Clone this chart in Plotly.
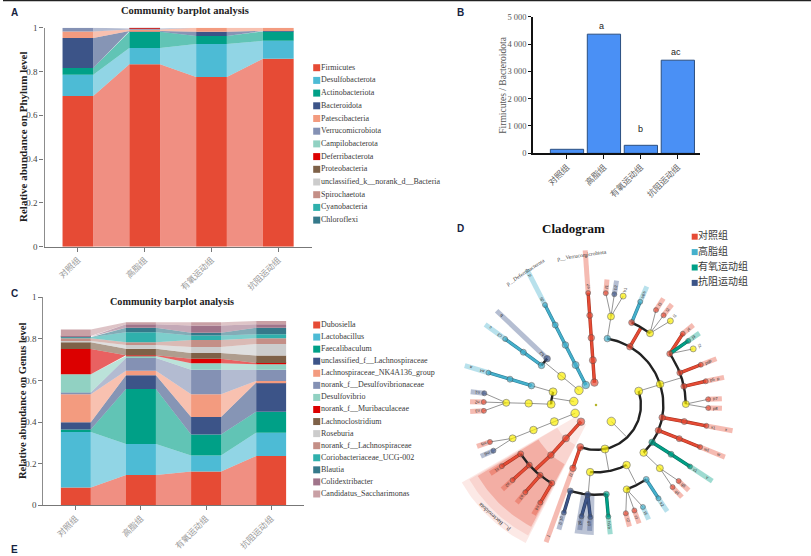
import numpy as np
import plotly.graph_objects as go

W, H = 811, 556

groups = ["对照组", "高脂组", "有氧运动组", "抗阻运动组"]

# ---------- Panel A: phylum relative abundance ----------
phylum_names = ["Firmicutes", "Desulfobacterota", "Actinobacteriota", "Bacteroidota",
                "Patescibacteria", "Verrucomicrobiota", "Campilobacterota", "Deferribacterota",
                "Proteobacteria", "unclassified_k__norank_d__Bacteria", "Spirochaetota",
                "Cyanobacteria", "Chloroflexi"]
firmicutes = [0.688, 0.833, 0.775, 0.858]
desulfobacterota = [0.097, 0.074, 0.150, 0.082]
actinobacteriota = [0.031, 0.075, 0.037, 0.043]
bacteroidota = [0.137, 0.003, 0.020, 0.002]
patescibacteria = [0.030, 0.007, 0.018, 0.015]
verrucomicrobiota = [0.017, 0.004, 0.0, 0.0]
campilobacterota = [0.0, 0.002, 0.0, 0.0]
phylum_rest = [0.0, 0.002, 0.0, 0.0]
phylum_series = [firmicutes, desulfobacterota, actinobacteriota, bacteroidota,
                 patescibacteria, verrucomicrobiota, campilobacterota, phylum_rest]

# ---------- Panel C: genus relative abundance ----------
genus_names = ["Dubosiella", "Lactobacillus", "Faecalibaculum", "unclassified_f__Lachnospiraceae",
               "Lachnospiraceae_NK4A136_group", "norank_f__Desulfovibrionaceae", "Desulfovibrio",
               "norank_f__Muribaculaceae", "Lachnoclostridium", "Roseburia",
               "norank_f__Lachnospiraceae", "Coriobacteriaceae_UCG-002", "Blautia",
               "Colidextribacter", "Candidatus_Saccharimonas"]
dubosiella = [0.085, 0.146, 0.162, 0.237]
lactobacillus = [0.268, 0.149, 0.077, 0.112]
faecalibaculum = [0.012, 0.264, 0.101, 0.101]
unclassified_lachno = [0.034, 0.066, 0.085, 0.140]
nk4a136 = [0.135, 0.022, 0.109, 0.008]
norank_desulfo = [0.008, 0.061, 0.118, 0.054]
desulfovibrio = [0.088, 0.010, 0.031, 0.026]
norank_murib = [0.122, 0.003, 0.021, 0.006]
lachnoclostridium = [0.032, 0.032, 0.028, 0.036]
roseburia = [0.006, 0.018, 0.029, 0.056]
norank_lachno = [0.013, 0.013, 0.034, 0.027]
coriobacteriaceae = [0.005, 0.048, 0.021, 0.019]
blautia = [0.003, 0.022, 0.014, 0.032]
colidextribacter = [0.003, 0.016, 0.034, 0.016]
saccharimonas = [0.031, 0.010, 0.016, 0.016]
genus_series = [dubosiella, lactobacillus, faecalibaculum, unclassified_lachno, nk4a136,
                norank_desulfo, desulfovibrio, norank_murib, lachnoclostridium, roseburia,
                norank_lachno, coriobacteriaceae, blautia, colidextribacter, saccharimonas]

palette = ["#E64B35", "#4DBBD5", "#00A087", "#3C5488", "#F39B7F", "#8491B4", "#91D1C2",
           "#DC0000", "#7E6148", "#CCCCCC", "#C48F87", "#2FB0AC", "#35798A", "#A0748A", "#C9A0A5"]

# ---------- Panel B: Firmicutes / Bacteroidota ratio ----------
ratio = [146, 4360, 293, 3408]
ratio_letters = ["a", "b", "ac"]
ratio_ticks = [0, 1000, 2000, 3000, 4000, 5000]
ratio_ticktext = ["0", "1 000", "2 000", "3 000", "4 000", "5 000"]

# ---------- Panel D: cladogram (tree: parent index, angle in degrees, enriched group) ----------
node_parent = [-1, 0, 1, 2, 3,
               -1, 5, 6, 7, 8,
               -1, 10, 11, 12, 13, 11,
               -1, 16, 17, 18, 19,
               16, 21, 22, 23, 23, 23,
               -1, 27, 28, 29, 30, 30,
               -1, 33, 34, 35, 36, 35, 38, 35, 40, 35, 42,
               -1, 44, 45,
               44, 47, 48, 49, 48, 51, 51, 48, 54,
               47, 56, 57, 57, 57, 56, 61,
               44, 63, 64, 65, 65,
               63, 68, 69,
               63, 71, 72,
               63, 74, 75,
               63, 77, 78, 78, 77, 81, 77, 83, 77, 85, 85, 85,
               63, 89, 90, 90, 90, 89, 94,
               63, 96, 97, 97, 97]
node_angle = [94, 94, 94, 94, 94,
              117, 117, 117, 117, 117,
              139.4, 140, 144, 144, 144, 136.5,
              171, 163, 163.3, 163.3, 163.3,
              179, 178.6, 178.6, 174, 178.5, 183,
              201.8, 201.8, 201.8, 201.8, 199.2, 204,
              228, 228, 228, 213, 213, 222, 222, 231.5, 231, 240.5, 240.3,
              313, 249.5, 250,
              281.5, 265, 253.4, 253.4, 264.7, 262.6, 267.1, 276.6, 276.3,
              297, 290, 285.4, 290, 294.7, 304, 303.8,
              378, 315, 315.3, 313, 317.4,
              326.4, 326.7, 326.8,
              337.8, 338, 338,
              349.3, 349.4, 349.3,
              378, 360.6, 362.9, 358.5, 372, 372.2, 381, 381, 394.8, 390, 394.8, 399.4,
              419.8, 413, 408.5, 413, 417.7, 426.6, 426.8,
              440.3, 440.4, 436, 440.6, 445]
node_group = ("rrrrr" "bbbbb" "yybbbn" "yybbb" "yyynrr" "yyyyrn" "rrrrrrrrrrr" "yrr"
              "yynnnnngg" "yyrrbbb" "yyyrr" "ggg" "rrr" "rrr"
              "yyrrrrrrr" "ygrr" "yyrrrbb" "yynrg")
box_reach = {4: 155, 9: 152, 14: 137, 15: 137, 20: 137, 46: 146, 50: 130, 55: 130, 62: 128,
             70: 139, 73: 139, 76: 139, 82: 131, 84: 129, 95: 129}
leaf_labels = ["e7", "d5", "c3", "b2", "a4", "n1", "n2", "n3", "m5", "m6",
               "s1", "s2", "s3", "s4", "f2", "g1", "g2", "g3", "h1", "r2",
               "r3", "t5", "k2", "q4", "q5", "v1", "w1", "x1", "p7", "p8",
               "p5", "p6", "j2", "j3", "j4", "l1", "l2", "l3", "u8", "b1",
               "b2", "f1"]
clade_names = ["p__Verrucomicrobiota", "p__Deferribacterota", "p__Bacteroidota"]
sector_r_from = [22, 45, 67, 90]
sector_r_to = [155, 147, 138, 130]
sector_a_from = [210, 210.5, 211, 260.5]
sector_a_to = [243, 242.5, 242, 269]
sector_alpha = [0.12, 0.13, 0.28, 0.35]
sector_group = ["r", "r", "r", "n"]
legend_groups = ["r", "b", "g", "n"]

# ---------- figure geometry (pixels of the page) ----------
def hdom(a, b):
    return [a / W, b / W]

def vdom(bottom, top):
    return [(H - bottom) / H, (H - top) / H]

CX, CY, STEP = 596, 405, 22.45
BAR_W = 0.46
rgba = lambda hexc, a: "rgba(%d,%d,%d,%s)" % (int(hexc[1:3], 16), int(hexc[3:5], 16), int(hexc[5:7], 16), a)
SERIF = "Liberation Serif"
CJK = "Noto Sans CJK SC"

fig = go.Figure()


def stacked(series, xa, ya):
    base = np.zeros(len(groups))
    for k, vals in enumerate(series):
        vals = np.array(vals, dtype=float)
        top = base + vals
        bx, by = [], []
        for i in range(len(groups) - 1):
            x0, x1 = i + BAR_W / 2, i + 1 - BAR_W / 2
            bx += [x0, x1, x1, x0, x0, None]
            by += [base[i], base[i + 1], top[i + 1], top[i], base[i], None]
        fig.add_trace(go.Scatter(x=bx, y=by, xaxis=xa, yaxis=ya, mode="lines", fill="toself",
                                 line=dict(width=0), fillcolor=rgba(palette[k], 0.62),
                                 hoverinfo="skip", showlegend=False))
        fig.add_trace(go.Bar(x=list(range(len(groups))), y=vals, base=base, width=BAR_W, xaxis=xa,
                             yaxis=ya, marker=dict(color=palette[k], line=dict(width=0)),
                             showlegend=False))
        base = top


stacked(phylum_series, "x", "y")
stacked(genus_series, "x2", "y2")

fig.add_trace(go.Bar(x=list(range(len(groups))), y=ratio, width=0.9, xaxis="x3", yaxis="y3",
                     marker=dict(color="#4A90F5", line=dict(color="#2B4F80", width=1)),
                     showlegend=False))

# ---------- overlay on page pixels: legends and cladogram ----------
def overlay(**kw):
    fig.add_trace(go.Scatter(xaxis="x4", yaxis="y4", hoverinfo="skip", showlegend=False, **kw))


def swatches(names, x_sq, x_tx, y0, dy, size, fsize, color, family):
    ys = [y0 + dy * i for i in range(len(names))]
    overlay(x=[x_sq] * len(names), y=ys, mode="markers",
            marker=dict(symbol="square", size=size, color=color, line=dict(width=0)))
    overlay(x=[x_tx] * len(names), y=ys, mode="text", text=names, textposition="middle right",
            textfont=dict(family=family, size=fsize, color="#3a3a3a"))


swatches(phylum_names, 316.7, 321, 67.7, 12.7, 7, 8, palette[:13], SERIF)
swatches(genus_names, 316.7, 321, 325, 12.07, 7, 8, palette[:15], SERIF)

group_color = {"r": "#E64B35", "b": "#45B0CC", "g": "#00A087", "n": "#3C5488", "y": "#FBEF00"}
overlay_legend_colors = [group_color[g] for g in legend_groups]
swatches(groups, 694.7, 698, 236.7, 15.4, 6, 10, overlay_legend_colors, CJK)


def pol(angle, radius):
    t = np.radians(angle)
    return CX + radius * np.cos(t), CY - radius * np.sin(t)


n = len(node_parent)
level = [0] * n
for i in range(n):
    level[i] = 1 if node_parent[i] < 0 else level[node_parent[i]] + 1
rad = [STEP * l for l in level]
children = {i: [j for j in range(n) if node_parent[j] == i] for i in range(n)}
leaves = [i for i in range(n) if not children[i]]

# sectors
for r0, r1, a0, a1, al, g in zip(sector_r_from, sector_r_to, sector_a_from, sector_a_to,
                                 sector_alpha, sector_group):
    aa = np.linspace(a0, a1, 30)
    xo, yo = pol(aa, r1)
    xi, yi = pol(aa[::-1], r0)
    overlay(x=list(xo) + list(xi) + [xo[0]], y=list(yo) + list(yi) + [yo[0]], mode="lines",
            fill="toself", line=dict(width=0), fillcolor=rgba(group_color[g], al))

# highlight boxes behind the leaves
for g in "rbgn":
    bx, by = [], []
    for i in leaves:
        if node_group[i] == g:
            a = node_angle[i]
            x0, y0 = pol(a, rad[i])
            x1, y1 = pol(a, box_reach.get(i, 126))
            bx += [x0, x1, None]
            by += [y0, y1, None]
    overlay(x=bx, y=by, mode="lines", line=dict(color=rgba(group_color[g], 0.38), width=5))

# thin, thick and arc branches
thin_x, thin_y, arc_x, arc_y = [], [], [], []
thick = {g: ([], []) for g in "rbgn"}
for p in range(n):
    kids = children[p]
    if not kids:
        continue
    px, py = pol(node_angle[p], rad[p])
    coloured = node_group[p] != "y"
    if len(kids) > 1 and level[kids[0]] <= 4:
        ang = [node_angle[k] for k in kids]
        aa = np.linspace(min(ang), max(ang), 60)
        ax, ay = pol(aa, rad[kids[0]])
        arc_x += list(ax) + [None]
        arc_y += list(ay) + [None]
        ex, ey = pol(0.5 * (min(ang) + max(ang)), rad[kids[0]])
        segs = [(node_group[p], ex, ey)]
    else:
        segs = []
        for k in kids:
            ex, ey = pol(node_angle[k], rad[k])
            segs.append((node_group[k], ex, ey))
    for g, ex, ey in segs:
        if coloured and g != "y":
            thick[g][0].extend([px, ex, None])
            thick[g][1].extend([py, ey, None])
        else:
            thin_x += [px, ex, None]
            thin_y += [py, ey, None]

overlay(x=thin_x, y=thin_y, mode="lines", line=dict(color="#8a8a8a", width=0.9))
dark = {"r": "#A8321F", "b": "#2E7F97", "g": "#00715F", "n": "#2A3B60"}
for g, (tx, ty) in thick.items():
    overlay(x=tx, y=ty, mode="lines", line=dict(color=dark[g], width=3.4))
    overlay(x=tx, y=ty, mode="lines", line=dict(color=group_color[g], width=2.3))
overlay(x=arc_x, y=arc_y, mode="lines", line=dict(color="#222222", width=2.4))

# nodes
nx, ny = pol(np.array(node_angle, dtype=float), np.array(rad))
size_by_level = {1: 7.5, 2: 7, 3: 6.5, 4: 6, 5: 5}
overlay(x=list(nx), y=list(ny), mode="markers",
        marker=dict(size=[size_by_level[l] + (1 if g == "y" else 0) for l, g in zip(level, node_group)],
                    color=[group_color[g] for g in node_group],
                    line=dict(color="#4a4a4a", width=0.7)))
overlay(x=[CX], y=[CY], mode="markers", marker=dict(size=2.5, color="#B5B52A"))

# ---------- texts ----------
ann = []


def txt(x, y, text, size, family=SERIF, color="#222222", bold=False, angle=0):
    ann.append(dict(x=x, y=y, xref="x4", yref="y4", text="<b>%s</b>" % text if bold else text,
                    showarrow=False, textangle=angle, xanchor="center", yanchor="middle",
                    font=dict(size=size, family=family, color=color)))


for lab, x, y in [("A", 14, 12), ("B", 460, 12), ("C", 14, 293), ("D", 460, 228), ("E", 14, 549)]:
    txt(x, y, lab, 10, "Liberation Sans", "#16233F", True)
txt(185, 10.5, "Community barplot analysis", 10.5, bold=True)
txt(172, 301.5, "Community barplot analysis", 10.2, bold=True)
txt(573, 228, "Cladogram", 13, bold=True, color="#111111")
txt(196, 560, "LDA Score", 11, bold=True)
txt(23, 137, "Relative abundance on Phylum level", 11, bold=True, angle=-90)
txt(22, 401, "Relative abundance on Genus level", 10.5, bold=True, angle=-90)
txt(502.7, 85, "Firmicutes / Bacteroidota", 9.5, color="#555555", angle=-90)
txt(582, 255, clade_names[0], 5.5, angle=-8, color="#333333")
txt(525, 272, clade_names[1], 5.5, angle=-33, color="#333333")
txt(494, 517, clade_names[2], 6, angle=222, color="#333333")
for lab, x, y in zip(ratio_letters, [601.5, 640, 676], [26, 129, 52]):
    txt(x, y, lab, 9, "Liberation Sans", "#222222")
for i, lab in zip(leaves, leaf_labels):
    lx, ly = pol(node_angle[i], rad[i] + 7)
    txt(float(lx), float(ly), lab, 4.2, "Liberation Sans", "#333333", angle=-node_angle[i])
    if i in box_reach and box_reach[i] > 128:
        lx, ly = pol(node_angle[i], box_reach[i] - 6)
        txt(float(lx), float(ly), lab[0], 4.2, "Liberation Sans", "#333333", angle=-node_angle[i])


def y_axis(domain, anchor):
    return dict(domain=domain, range=[0, 1], dtick=0.2, anchor=anchor, showgrid=False, zeroline=False,
                ticks="outside", ticklen=4, tickwidth=1, tickcolor="#777777",
                showline=True, linecolor="#8c8c8c", linewidth=1.2,
                tickfont=dict(family=SERIF, size=9, color="#444444"))


def x_axis(domain, yname):
    return dict(domain=domain, range=[-0.5, 3.5], anchor=yname, tickvals=[0, 1, 2, 3], ticktext=groups,
                tickangle=-45, showgrid=False, zeroline=False, ticks="outside", ticklen=4,
                tickcolor="#777777", showline=True, linecolor="#777777", linewidth=1.2,
                tickfont=dict(family=CJK, size=8.5, color="#9a9a9a"))


fig.update_layout(
    width=W, height=H, margin=dict(l=0, r=0, t=0, b=0, autoexpand=False), autosize=False,
    paper_bgcolor="white", plot_bgcolor="rgba(0,0,0,0)", barmode="overlay", showlegend=False,
    xaxis=x_axis(hdom(44.5, 311.7), "y"), yaxis=y_axis(vdom(246.7, 27.7), "x"),
    xaxis2=x_axis(hdom(43.3, 303.7), "y2"), yaxis2=y_axis(vdom(505.3, 297.3), "x2"),
    xaxis3=dict(domain=hdom(533, 700), range=[-0.92, 3.6], anchor="y3", tickvals=[0, 1, 2, 3],
                ticktext=groups, tickangle=-45, showgrid=False, zeroline=False, ticks="outside",
                ticklen=4, tickwidth=1.2, tickcolor="#111111", showline=True, linecolor="#111111",
                linewidth=1.5, tickfont=dict(family=CJK, size=8.5, color="#666666")),
    yaxis3=dict(domain=vdom(153.3, 16.7), range=[0, 5000], anchor="x3", tickvals=ratio_ticks,
                ticktext=ratio_ticktext, showgrid=False, zeroline=False, ticks="outside", ticklen=3,
                tickwidth=1.2, tickcolor="#111111", showline=True, linecolor="#111111", linewidth=1.5,
                tickfont=dict(family=SERIF, size=8.5, color="#555555")),
    xaxis4=dict(domain=[0, 1], range=[0, W], visible=False, anchor="y4"),
    yaxis4=dict(domain=[0, 1], range=[H, 0], visible=False, anchor="x4"),
    annotations=ann,
    shapes=[dict(type="line", xref="x4", yref="y4", x0=3, x1=W, y0=0.6, y1=0.6,
                 line=dict(color="#222222", width=1.5))],
)

fig.write_html("out.html", config={"displayModeBar": False},
               post_script="document.body.style.margin='0';document.body.style.overflow='hidden';")
